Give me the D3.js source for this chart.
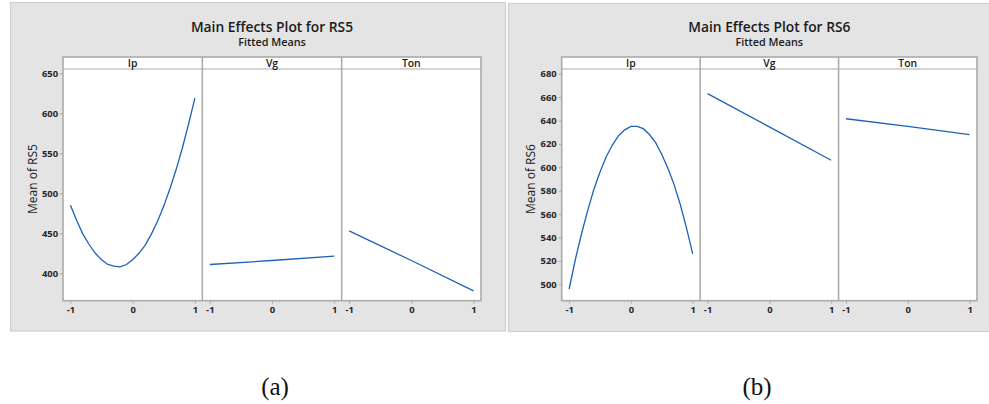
<!DOCTYPE html>
<html>
<head>
<meta charset="utf-8">
<script src="https://cdn.jsdelivr.net/npm/d3@7"></script>
<style>
  html, body { margin: 0; padding: 0; background: #ffffff; }
  svg { display: block; }
  .tick text { font-family: "Open Sans", "Noto Sans", sans-serif; font-weight: 700; font-size: 9.4px; fill: #262626; }
</style>
</head>
<body>
<svg id="chart" width="989" height="404"></svg>
<script>
// Factor names shown in the panel strips
const factors = ["Ip", "Vg", "Ton"];

// Coded factor levels (x axis ticks)
const levelTicks = [-1, 0, 1];

// Settings where the curved Ip response is evaluated
const ipLevels = [-1, -0.9, -0.8, -0.7, -0.6, -0.5, -0.4, -0.3, -0.2, -0.1, 0,
                  0.1, 0.2, 0.3, 0.4, 0.5, 0.6, 0.7, 0.8, 0.9, 1];
// Settings where the straight Vg / Ton responses are evaluated
const linLevels = [-1, 0, 1];

// Fitted means of RS5
const rs5Ip  = [485, 466, 449, 436, 425, 417, 411, 409, 408, 411, 417,
                425, 435, 449, 465, 484, 506, 530, 557, 587, 619];
const rs5Vg  = [411, 416, 421.5];
const rs5Ton = [453, 416, 378];

// Fitted means of RS6
const rs6Ip  = [496, 521, 543, 563, 581, 596, 609, 619, 627, 632, 635,
                635, 633, 628, 621, 611, 599, 585, 568, 548, 526];
const rs6Vg  = [663, 634.5, 606];
const rs6Ton = [641.5, 635, 628];

// Y axis tick labels
const rs5Ticks = [400, 450, 500, 550, 600, 650];
const rs6Ticks = [500, 520, 540, 560, 580, 600, 620, 640, 660, 680];

// Figure captions
const captions = ["(a)", "(b)"];

const charts = [
  { title: "Main Effects Plot for RS5", ylabel: "Mean of RS5",
    series: [[ipLevels, rs5Ip], [linLevels, rs5Vg], [linLevels, rs5Ton]],
    ticks: rs5Ticks, yDomain: [365.75, 655.4],
    box: [10, 2, 495, 328.5], plot: [63, 481], ylabelX: 32, caption: captions[0], capX: 275 },
  { title: "Main Effects Plot for RS6", ylabel: "Mean of RS6",
    series: [[ipLevels, rs6Ip], [linLevels, rs6Vg], [linLevels, rs6Ton]],
    ticks: rs6Ticks, yDomain: [486.0, 684.0],
    box: [508, 3, 484, 328], plot: [561.7, 977], ylabelX: 530, caption: captions[1], capX: 757 }
];

const svg = d3.select("#chart");
const sans = '"Open Sans", "Noto Sans", sans-serif';
const frameTop = 57, stripBottom = 69, plotBottom = 300.7;
const gridColor = "#ababab";
const lineColor = "#1d62b8";

charts.forEach(c => {
  const g = svg.append("g");
  const [bx, by, bw, bh] = c.box;
  g.append("rect").attr("x", bx + 0.5).attr("y", by + 0.5).attr("width", bw).attr("height", bh)
    .attr("fill", "#e4e4e4").attr("stroke", "#cfcfcf").attr("stroke-width", 1.2);

  const [px0, px1] = c.plot;
  const cx = (px0 + px1) / 2;

  g.append("text").attr("x", cx).attr("y", 31.5).attr("text-anchor", "middle")
    .attr("font-family", sans).attr("font-weight", 600).attr("font-size", 13.8)
    .attr("fill", "#1a1a1a").text(c.title);
  g.append("text").attr("x", cx).attr("y", 46).attr("text-anchor", "middle")
    .attr("font-family", sans).attr("font-weight", 600).attr("font-size", 10.8)
    .attr("fill", "#1a1a1a").text("Fitted Means");

  // plot frame
  g.append("rect").attr("x", px0).attr("y", frameTop).attr("width", px1 - px0)
    .attr("height", plotBottom - frameTop).attr("fill", "#ffffff")
    .attr("stroke", gridColor).attr("stroke-width", 1.6);

  const y = d3.scaleLinear().domain(c.yDomain).range([plotBottom, stripBottom]);

  const yAxis = g.append("g").attr("transform", `translate(${px0},0)`)
    .call(d3.axisLeft(y).tickValues(c.ticks).tickSize(3).tickPadding(2).tickSizeOuter(0));
  yAxis.select(".domain").remove();
  yAxis.selectAll(".tick line").attr("stroke", gridColor);

  g.append("text")
    .attr("transform", `translate(${c.ylabelX},179) rotate(-90)`)
    .attr("text-anchor", "middle").attr("dominant-baseline", "central")
    .attr("font-family", sans).attr("font-size", 12).attr("fill", "#1a1a1a")
    .text(c.ylabel);

  const pw = (px1 - px0) / factors.length;
  factors.forEach((f, i) => {
    const x0 = px0 + i * pw, x1 = x0 + pw;
    const x = d3.scaleLinear().domain([-1.12, 1.12]).range([x0, x1]);

    // strip
    g.append("line").attr("x1", x0).attr("x2", x1).attr("y1", stripBottom).attr("y2", stripBottom)
      .attr("stroke", gridColor).attr("stroke-width", 1.2);
    g.append("text").attr("x", (x0 + x1) / 2).attr("y", 63).attr("text-anchor", "middle")
      .attr("dominant-baseline", "central").attr("font-family", sans).attr("font-weight", 600)
      .attr("font-size", 10.4).attr("fill", "#1a1a1a").text(f);

    if (i > 0) {
      g.append("line").attr("x1", x0).attr("x2", x0).attr("y1", frameTop).attr("y2", plotBottom)
        .attr("stroke", gridColor).attr("stroke-width", 1.6);
    }

    const xAxis = g.append("g").attr("transform", `translate(0,${plotBottom})`)
      .call(d3.axisBottom(x).tickValues(levelTicks).tickFormat(d => String(d))
        .tickSize(3).tickPadding(3).tickSizeOuter(0));
    xAxis.select(".domain").remove();
    xAxis.selectAll(".tick line").attr("stroke", gridColor);

    const [xs, ys] = c.series[i];
    const pts = xs.map((v, k) => [v, ys[k]]);
    g.append("path").datum(pts)
      .attr("d", d3.line().x(d => x(d[0])).y(d => y(d[1])))
      .attr("fill", "none").attr("stroke", lineColor).attr("stroke-width", 1.3);
  });

  svg.append("text").attr("x", c.capX).attr("y", 395).attr("text-anchor", "middle")
    .attr("font-family", '"Liberation Serif", "Times New Roman", serif')
    .attr("font-size", 25).attr("fill", "#111").text(c.caption);
});
</script>
</body>
</html>
